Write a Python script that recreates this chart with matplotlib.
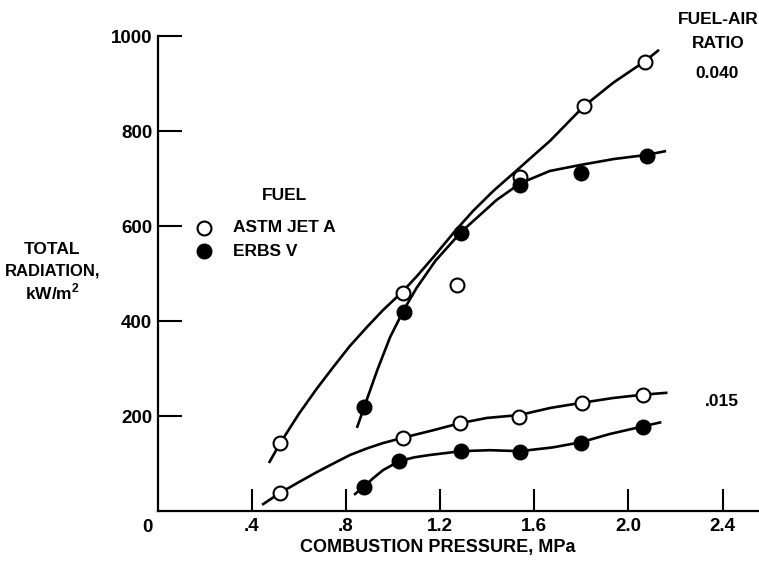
import matplotlib
matplotlib.use("Agg")
import matplotlib.pyplot as plt

plt.rcParams['font.family'] = ['Liberation Sans Narrow', 'Liberation Sans', 'DejaVu Sans']
plt.rcParams['font.weight'] = 'bold'
plt.rcParams['axes.labelweight'] = 'bold'
plt.rcParams['mathtext.fontset'] = 'custom'
plt.rcParams['mathtext.bf'] = 'Liberation Sans:bold'

# measured points, combustion pressure (MPa) vs total radiation (kW/m2)
astm_040_x = [0.52, 1.04, 1.54, 1.81, 2.07]
astm_040_y = [143, 459, 703, 852, 945]
astm_outlier_x = [1.27]
astm_outlier_y = [476]
erbs_040_x = [0.877, 1.047, 1.29, 1.54, 1.80, 2.08]
erbs_040_y = [218, 419, 585, 686, 711, 748]
astm_015_x = [0.52, 1.04, 1.285, 1.536, 1.804, 2.064]
astm_015_y = [38, 154, 185, 198, 227, 244]
erbs_015_x = [0.875, 1.026, 1.29, 1.54, 1.80, 2.06]
erbs_015_y = [50, 105, 126, 124, 143, 177]

# faired curves
astm_040_cx = [0.472, 0.52, 0.6, 0.676, 0.75, 0.817, 0.89, 0.957, 1.04, 1.10,
               1.17, 1.264, 1.34, 1.426, 1.536, 1.668, 1.81, 1.936, 2.07, 2.13]
astm_040_cy = [101, 143, 205, 258, 306, 348, 388, 423, 462, 494,
               534, 590, 632, 674, 722, 780, 852, 902, 947, 971]
erbs_040_cx = [0.846, 0.877, 0.932, 0.987, 1.047, 1.10, 1.18, 1.29, 1.44, 1.54,
               1.666, 1.80, 1.936, 2.08, 2.16]
erbs_040_cy = [175, 219, 296, 366, 425, 470, 527, 588, 655, 690,
               716, 729, 741, 750, 758]
astm_015_cx = [0.443, 0.519, 0.6, 0.676, 0.75, 0.817, 0.89, 0.957, 1.04, 1.17,
               1.285, 1.40, 1.536, 1.668, 1.804, 1.936, 2.064, 2.166]
astm_015_cy = [13, 38, 61, 82, 101, 118, 132, 143, 154, 170,
               185, 196, 202, 217, 228, 238, 245, 249]
erbs_015_cx = [0.834, 0.873, 0.915, 0.957, 1.026, 1.09, 1.157, 1.29, 1.41, 1.54,
               1.68, 1.80, 1.92, 2.06, 2.14]
erbs_015_cy = [34, 50, 69, 86, 105, 113, 118, 126, 128, 126,
               134, 145, 162, 178, 187]

x_ticks = [0.4, 0.8, 1.2, 1.6, 2.0, 2.4]
x_labels = ['.4', '.8', '1.2', '1.6', '2.0', '2.4']
y_ticks = [200, 400, 600, 800, 1000]

fig = plt.figure(figsize=(7.59, 5.64), dpi=100)
ax = fig.add_axes([0.208, 0.094, 0.792, 0.842])

lw = 1.9
for cx, cy in [(astm_040_cx, astm_040_cy), (erbs_040_cx, erbs_040_cy),
               (astm_015_cx, astm_015_cy), (erbs_015_cx, erbs_015_cy)]:
    ax.plot(cx, cy, color='black', lw=lw, solid_capstyle='butt',
            solid_joinstyle='round', zorder=2)

open_style = dict(marker='o', ms=10, mfc='white', mec='black', mew=1.5,
                  ls='none', zorder=3)
fill_style = dict(marker='o', ms=10, mfc='black', mec='black', mew=1.5,
                  ls='none', zorder=3)
ax.plot(astm_040_x, astm_040_y, **open_style)
ax.plot(astm_outlier_x, astm_outlier_y, **open_style)
ax.plot(astm_015_x, astm_015_y, **open_style)
ax.plot(erbs_040_x, erbs_040_y, **fill_style)
ax.plot(erbs_015_x, erbs_015_y, **fill_style)

ax.set_xlim(0, 2.555)
ax.set_ylim(0, 1000)
ax.spines['top'].set_visible(False)
ax.spines['right'].set_visible(False)
ax.spines['left'].set_linewidth(1.6)
ax.spines['bottom'].set_linewidth(1.6)

ax.set_xticks(x_ticks)
ax.set_xticklabels(x_labels)
ax.set_yticks(y_ticks)
ax.set_yticklabels([str(v) for v in y_ticks])
ax.tick_params(axis='x', direction='in', length=16, width=1.5, pad=5, labelsize=13.5)
ax.tick_params(axis='y', direction='in', length=17, width=1.5, pad=4, labelsize=13.5)
ax.text(-0.018, -0.034, '0', transform=ax.transAxes, ha='center', va='center',
        fontsize=13.5)

ax.set_xlabel('COMBUSTION PRESSURE, MPa', fontsize=13)
ax.xaxis.set_label_coords(0.466, -0.060)

fig.text(0.069, 1 - 250 / 564, 'TOTAL', ha='center', va='center', fontsize=12.5)
fig.text(0.069, 1 - 271 / 564, 'RADIATION,', ha='center', va='center', fontsize=12)
fig.text(0.069, 1 - 292 / 564, 'kW/m$^\\mathbf{2}$', ha='center', va='center', fontsize=12.5)

# legend drawn by hand
ax.text(0.443, 665, 'FUEL', fontsize=12.5, ha='left', va='center')
ax.plot([0.196], [596], **open_style)
ax.plot([0.196], [547], **fill_style)
ax.text(0.319, 596, 'ASTM JET A', fontsize=12.5, ha='left', va='center')
ax.text(0.319, 547, 'ERBS V', fontsize=12.5, ha='left', va='center')

fig.text(718 / 759, 1 - 20 / 564, 'FUEL-AIR', ha='center', va='center', fontsize=12.5)
fig.text(718 / 759, 1 - 44 / 564, 'RATIO', ha='center', va='center', fontsize=12.5)
fig.text(717 / 759, 1 - 74 / 564, '0.040', ha='center', va='center', fontsize=12.5)
fig.text(722 / 759, 1 - 401 / 564, '.015', ha='center', va='center', fontsize=12.5)

fig.savefig('out.png', dpi=100)
